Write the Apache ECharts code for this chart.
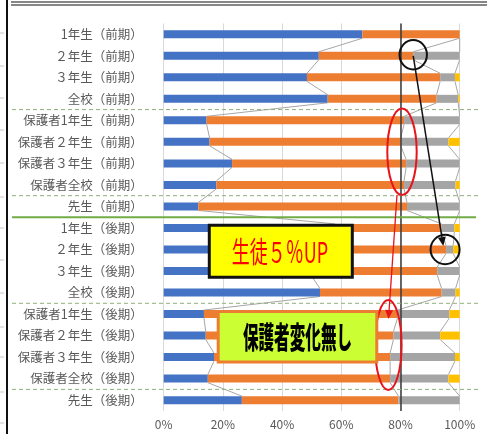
<!DOCTYPE html>
<html><head><meta charset="utf-8">
<script src="https://cdn.jsdelivr.net/npm/echarts@6/dist/echarts.min.js"></script>
<style>html,body{margin:0;padding:0;background:#fff}#c{width:489px;height:434px}</style>
</head><body><div id="c"></div>
<script>
const categories = ['1年生（前期）','２年生（前期）','３年生（前期）','全校（前期）','保護者1年生（前期）','保護者２年生（前期）','保護者３年生（前期）','保護者全校（前期）','先生（前期）','1年生（後期）','２年生（後期）','３年生（後期）','全校（後期）','保護者1年生（後期）','保護者２年生（後期）','保護者３年生（後期）','保護者全校（後期）','先生（後期）'];
const blueVals   = [67.1, 52.4, 48.4, 55.4, 14.5, 15.5, 23.1, 17.8, 11.7, 57.9, 50.0, 49.7, 52.8, 13.6, 14.2, 17.0, 14.9, 26.4];
const orangeVals = [32.9, 31.9, 45.0, 36.8, 66.7, 64.6, 58.8, 63.4, 70.5, 36.0, 45.4, 42.7, 41.1, 65.4, 63.4, 59.5, 61.6, 52.9];
const grayVals   = [0, 15.7, 5.0, 7.3, 18.8, 16.1, 18.1, 17.4, 17.8, 4.3, 2.4, 7.6, 4.7, 17.5, 15.8, 21.9, 19.7, 20.7];
const yellowVals = [0, 0, 1.6, 0.5, 0, 3.8, 0, 1.4, 0, 1.8, 2.2, 0, 1.4, 3.5, 6.6, 1.6, 3.8, 0];
const xTickLabels = ['0%','20%','40%','60%','80%','100%'];

const BW = 8;
const cum1 = blueVals.slice();
const cum2 = blueVals.map((v,i)=>v+orangeVals[i]);
const cum3 = cum2.map((v,i)=>v+grayVals[i]);

const chart = echarts.init(document.getElementById('c'), null, {renderer:'canvas'});
const font = '"Noto Sans CJK JP","Noto Sans",sans-serif';

function bar(name, data, color, extra){
  return Object.assign({type:'bar', name, data, stack:'s', barWidth:BW, itemStyle:{color}, z:3, silent:true}, extra||{});
}

chart.setOption({
  animation:false,
  grid:{left:163.7, right:29.3, top:23.5, bottom:23.1, containLabel:false},
  xAxis:{type:'value', min:0, max:100, interval:20,
    axisLine:{show:false}, axisTick:{show:false},
    splitLine:{lineStyle:{color:'#D9D9D9', width:1}},
    axisLabel:{margin:8, color:'#595959', fontSize:12, fontFamily:font,
      formatter:(v)=>xTickLabels[Math.round(v/20)]}},
  yAxis:{type:'category', inverse:true, data:categories,
    axisLine:{show:false}, axisTick:{show:false},
    axisLabel:{margin:21, color:'#595959', fontSize:12.5, fontFamily:font}},
  series:[
    {type:'custom', coordinateSystem:'cartesian2d', z:1, silent:true,
      data: categories.slice(0,-1).map((c,i)=>[i]),
      renderItem:function(params, api){
        const i = api.value(0);
        const kids = [];
        [cum1,cum2,cum3].forEach(arr=>{
          const a = api.coord([arr[i], i]);
          const b = api.coord([arr[i+1], i+1]);
          kids.push({type:'line', shape:{x1:a[0], y1:a[1]+BW/2, x2:b[0], y2:b[1]-BW/2},
            style:{stroke:'#A6A6A6', lineWidth:1}});
        });
        return {type:'group', children:kids};
      }},
    bar('a', blueVals, '#4472C4', {markLine:{silent:true, symbol:'none', label:{show:false},
      lineStyle:{color:'#3A3A3A', width:1.5, type:'solid'}, data:[{xAxis:80}]}}),
    bar('b', orangeVals, '#ED7D31'),
    bar('c', grayVals, '#A5A5A5'),
    bar('d', yellowVals, '#FFC000')
  ]
});

// overlays
const yAt = (i)=>chart.convertToPixel({yAxisIndex:0}, i);
const xAt = (v)=>chart.convertToPixel({xAxisIndex:0}, v);
const g = [];
// frame
g.push({type:'line', shape:{x1:7, y1:0, x2:7, y2:434}, style:{stroke:'#111', lineWidth:2}, z:50});
g.push({type:'line', shape:{x1:11, y1:2, x2:487, y2:2}, style:{stroke:'#111', lineWidth:1.2}, z:50});
g.push({type:'line', shape:{x1:11, y1:5, x2:487, y2:5}, style:{stroke:'#111', lineWidth:1.2}, z:50});
[33,66,98,130,163,197,228,260,293,327,357,392,423].forEach(y=>{
  g.push({type:'line', shape:{x1:0, y1:y, x2:4, y2:y}, style:{stroke:'#C8C8C8', lineWidth:1}, z:50});
});
// section separators
[[3,true],[7,true],[8,false],[12,true],[16,true]].forEach(([i,dashed])=>{
  const y = (yAt(i)+yAt(i+1))/2;
  if(dashed){
    g.push({type:'line', shape:{x1:12, y1:y, x2:478, y2:y}, style:{stroke:'#8FB07A', lineWidth:1, lineDash:[4,3]}, z:10});
  } else {
    g.push({type:'line', shape:{x1:12, y1:y, x2:476, y2:y}, style:{stroke:'#70AD47', lineWidth:2}, z:10});
  }
});
// annotations
const c1 = [xAt(84.3), yAt(1)];
const c2 = [xAt(95.4), yAt(10)];
g.push({type:'ellipse', shape:{cx:c1[0], cy:c1[1]-1, rx:13.7, ry:14.7}, style:{fill:null, stroke:'#111', lineWidth:2}, z:20});
g.push({type:'ellipse', shape:{cx:c2[0]-1, cy:c2[1], rx:14.5, ry:14.7}, style:{fill:null, stroke:'#111', lineWidth:2}, z:20});
function arrow(x1,y1,x2,y2,color,w){
  const ang = Math.atan2(y2-y1, x2-x1), L=9, W=4;
  const bx = x2 - L*Math.cos(ang), by = y2 - L*Math.sin(ang);
  const px = -Math.sin(ang)*W, py = Math.cos(ang)*W;
  g.push({type:'line', shape:{x1,y1,x2:bx,y2:by}, style:{stroke:color, lineWidth:w}, z:21});
  g.push({type:'polygon', shape:{points:[[x2,y2],[bx+px,by+py],[bx-px,by-py]]}, style:{fill:color}, z:21});
}
arrow(c1[0], c1[1], 443.3, 246, '#111', 1.5);
const e1 = {cx:402, cy:151.7, rx:14.7, ry:43.3};
const e2 = {cx:388.3, cy:345, rx:13.3, ry:45};
g.push({type:'ellipse', shape:e1, style:{fill:null, stroke:'#E8141B', lineWidth:2}, z:20});
g.push({type:'ellipse', shape:e2, style:{fill:null, stroke:'#E8141B', lineWidth:2}, z:20});
arrow(397, 195, 388.5, 319, '#E8141B', 1.3);
// text boxes
g.push({type:'rect', shape:{x:209.3, y:225.3, width:143, height:52}, style:{fill:'#FFFF00', stroke:'#111', lineWidth:3}, z:30});
g.push({type:'text', x:280, y:251.5, scaleX:0.62, z:31,
  style:{text:'生徒５％UP', fill:'#FF0000', fontSize:29, fontFamily:font, align:'center', verticalAlign:'middle'}});
g.push({type:'rect', shape:{x:218.2, y:311.5, width:158.6, height:50.5}, style:{fill:'#CCFF33', stroke:'#ED7D31', lineWidth:3}, z:30});
g.push({type:'text', x:297.5, y:337, scaleX:0.52, z:31,
  style:{text:'保護者変化無し', fill:'#000', fontSize:30, fontWeight:900, fontFamily:font, align:'center', verticalAlign:'middle'}});
chart.setOption({graphic:{elements:g}});
</script></body></html>
